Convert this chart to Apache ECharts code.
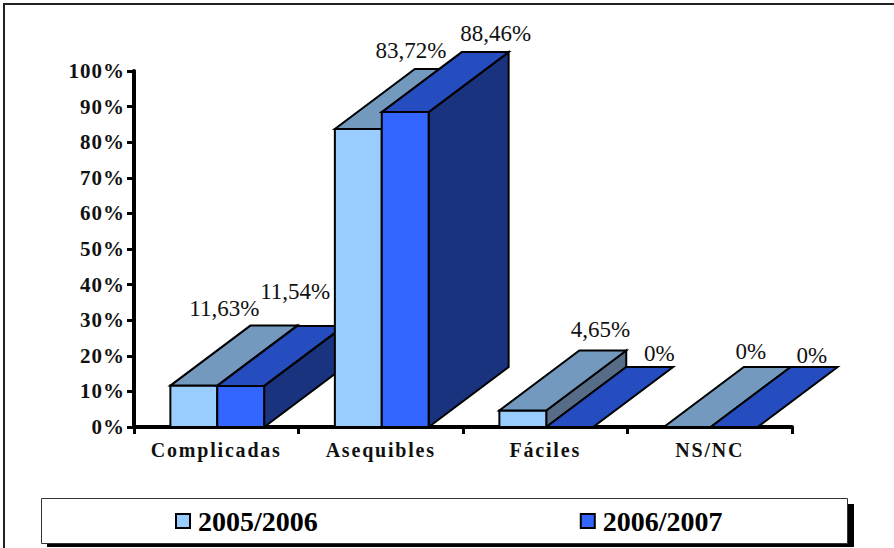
<!DOCTYPE html>
<html>
<head>
<meta charset="utf-8">
<style>
  html, body { margin: 0; padding: 0; background: #fff; }
  #chart { width: 894px; height: 548px; }
</style>
<script src="https://cdn.jsdelivr.net/npm/echarts@6/dist/echarts.min.js"></script>
</head>
<body>
<div id="chart"></div>
<script>
const categories = ["Complicadas", "Asequibles", "Fáciles", "NS/NC"];
const seriesNames = ["2005/2006", "2006/2007"];
const values2005 = [11.63, 83.72, 4.65, 0];
const values2006 = [11.54, 88.46, 0, 0];

// hand placed labels in the original: px from the front top left corner of each bar
const labelShift2005 = [[55, -77], [77, -78], [102, -81], [88, -76]];
const labelShift2006 = [[79, -94], [115, -79], [114, -74], [102, -72]];

const FONT = '"Liberation Serif", "Times New Roman", serif';
const DEPTH_X = 80;
const DEPTH_Y = -60;
const BAR_RATIO = 0.285;
const BAR_NUDGE = 1;

const palettes = [
  { front: "#99ccff", top: "#7399bf", side: "#566c87" },
  { front: "#3366ff", top: "#264dbf", side: "#1a337f" },
];

function valueText(v) {
  return v === 0 ? "0%" : v.toFixed(2).replace(".", ",") + "%";
}

function poly(points, fill, z2) {
  return {
    type: "polygon",
    z2: z2,
    shape: { points: points },
    style: { fill: fill, stroke: "#000", lineWidth: 2, lineJoin: "miter" },
  };
}

function makeRenderItem(seriesIdx, shifts) {
  const colors = palettes[seriesIdx];
  return function (params, api) {
    const cat = api.value(0);
    const val = api.value(1);
    const top = api.coord([cat, val]);
    const base = api.coord([cat, 0]);
    const w = api.size([1, 0])[0] * BAR_RATIO;
    const left = top[0] - w + seriesIdx * w;
    const x0 = left + BAR_NUDGE;
    const x1 = x0 + w;
    const y0 = top[1];
    const y1 = base[1];
    // later categories cover earlier ones, also across the two series
    const z2 = cat * 2 + seriesIdx;
    const children = [];
    if (val > 0) {
      children.push(poly([[x1, y0], [x1 + DEPTH_X, y0 + DEPTH_Y], [x1 + DEPTH_X, y1 + DEPTH_Y], [x1, y1]], colors.side, z2));
      children.push(poly([[x0, y0], [x1, y0], [x1, y1], [x0, y1]], colors.front, z2));
    }
    children.push(poly([[x0, y0], [x1, y0], [x1 + DEPTH_X, y0 + DEPTH_Y], [x0 + DEPTH_X, y0 + DEPTH_Y]], colors.top, z2));
    children.push({
      type: "text",
      z2: 100,
      style: {
        text: valueText(val),
        x: left + shifts[cat][0],
        y: y0 + shifts[cat][1],
        fill: "#111",
        font: "23px " + FONT,
        textAlign: "center",
        textVerticalAlign: "middle",
      },
    });
    return { type: "group", children: children };
  };
}

const chart = echarts.init(document.getElementById("chart"), null, { renderer: "svg" });

// echarts has no letter spacing option, so set it on the svg text afterwards
function spaceLabels() {
  document.querySelectorAll("#chart text").forEach((node) => {
    const t = node.textContent;
    if (categories.includes(t)) {
      node.style.letterSpacing = "1.8px";
    } else if (/^\d+%$/.test(t) && node.getAttribute("text-anchor") === "end") {
      node.style.letterSpacing = "1px";
    }
  });
}
chart.on("finished", spaceLabels);

chart.setOption({
  animation: false,
  backgroundColor: "#fff",
  grid: { left: 134, right: 102, top: 71, bottom: 121 },
  legend: {
    left: 170,
    top: 502,
    itemWidth: 14,
    itemHeight: 14,
    itemGap: 262,
    icon: "rect",
    selectedMode: false,
    data: seriesNames,
    itemStyle: { borderColor: "#000", borderWidth: 2 },
    textStyle: { color: "#000", fontFamily: FONT, fontWeight: "bold", fontSize: 28, padding: [0, 0, 0, 3] },
  },
  graphic: [
    // outer frame, only top and left are visible in the original
    { type: "polyline", silent: true, shape: { points: [[4, 548], [4, 4], [894, 4]] }, style: { fill: "none", stroke: "#222", lineWidth: 2 } },
    { type: "rect", silent: true, z: -2, shape: { x: 47, y: 504, width: 807, height: 43 }, style: { fill: "#000" } },
    { type: "rect", silent: true, z: -1, shape: { x: 41.5, y: 498.5, width: 806, height: 45 }, style: { fill: "#fff", stroke: "#333", lineWidth: 1 } },
  ],
  xAxis: {
    type: "category",
    data: categories,
    boundaryGap: true,
    axisLine: { lineStyle: { color: "#000", width: 4 } },
    axisTick: { show: true, alignWithLabel: false, length: 7, lineStyle: { color: "#000", width: 3 } },
    axisLabel: { color: "#111", fontFamily: FONT, fontWeight: "bold", fontSize: 20, margin: 13 },
  },
  yAxis: {
    type: "value",
    min: 0,
    max: 100,
    interval: 10,
    splitLine: { show: false },
    axisLine: { show: true, lineStyle: { color: "#000", width: 4 } },
    axisTick: { show: true, length: 7, lineStyle: { color: "#000", width: 3 } },
    axisLabel: { color: "#111", fontFamily: FONT, fontWeight: "bold", fontSize: 21, margin: 9, formatter: "{value}%" },
  },
  series: [
    {
      name: seriesNames[0],
      type: "custom",
      itemStyle: { color: palettes[0].front },
      renderItem: makeRenderItem(0, labelShift2005),
      data: values2005.map((v, i) => [i, v]),
    },
    {
      name: seriesNames[1],
      type: "custom",
      itemStyle: { color: palettes[1].front },
      renderItem: makeRenderItem(1, labelShift2006),
      data: values2006.map((v, i) => [i, v]),
    },
  ],
});
spaceLabels();
</script>
</body>
</html>
